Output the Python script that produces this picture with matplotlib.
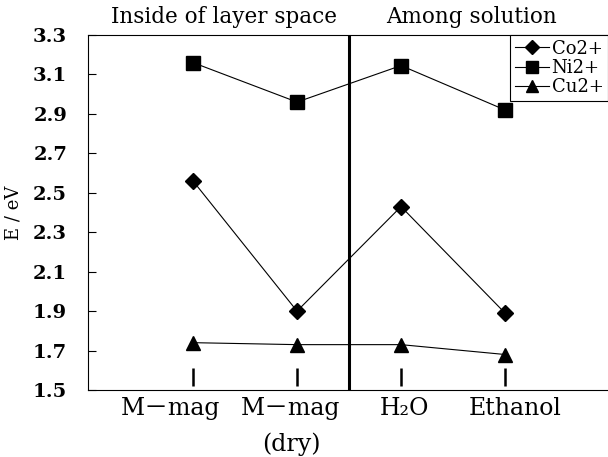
import matplotlib
matplotlib.use("Agg")
import matplotlib.pyplot as plt
from matplotlib.transforms import ScaledTranslation

# --- data ---------------------------------------------------------------------
categories = ["M\uff0dmag", "M\uff0dmag\n(dry)", "H\u2082O", "Ethanol"]
co_values = [2.56, 1.90, 2.43, 1.89]
ni_values = [3.16, 2.96, 3.145, 2.92]
cu_values = [1.74, 1.73, 1.73, 1.68]
y_ticks = [1.5, 1.7, 1.9, 2.1, 2.3, 2.5, 2.7, 2.9, 3.1, 3.3]

plt.rcParams["font.family"] = ["DejaVu Serif", "Noto Sans CJK JP"]

fig = plt.figure(figsize=(6.08, 4.57), dpi=100)
ax = fig.add_axes([0.1447, 0.1466, 0.8553, 0.7768])

x = list(range(len(categories)))
ax.plot(x, co_values, color="black", lw=0.8, marker="D", ms=8.5, label="Co2+")
ax.plot(x, ni_values, color="black", lw=0.8, marker="s", ms=10, label="Ni2+")
ax.plot(x, cu_values, color="black", lw=0.8, marker="^", ms=10, label="Cu2+")

# divider between the two groups
ax.axvline(1.5, color="black", lw=2.2)
# short category markers above the bottom axis
ax.vlines(x, 1.52, 1.61, color="black", lw=1.8)

ax.set_xlim(-1.01, 3.99)
ax.set_ylim(1.5, 3.3)
ax.set_yticks(y_ticks)
ax.set_yticklabels([f"{v:.1f}" for v in y_ticks], fontsize=14, fontweight="bold")
ax.tick_params(axis="y", direction="in", length=6, width=0.8, pad=15)
ax.set_xticks(x)
ax.set_xticklabels(categories, fontsize=17, linespacing=1.65)
ax.tick_params(axis="x", length=0, pad=5)
# the scanned labels sit a little off their category marks
label_shift_px = [-22, -6, 3, 10]
for lab, dx in zip(ax.get_xticklabels(), label_shift_px):
    lab.set_transform(lab.get_transform() + ScaledTranslation(dx / 100, 0, fig.dpi_scale_trans))

ax.spines["right"].set_visible(False)
for s in ("left", "bottom", "top"):
    ax.spines[s].set_linewidth(0.8)

ax.set_ylabel("E / eV", fontsize=13)
ax.yaxis.set_label_coords(-0.125, 0.5)

ax.text(0.3, 1.02, "Inside of layer space", transform=ax.get_xaxis_transform(),
        ha="center", va="bottom", fontsize=15.5)
ax.text(2.68, 1.02, "Among solution", transform=ax.get_xaxis_transform(),
        ha="center", va="bottom", fontsize=15.5)

leg = ax.legend(loc="upper right", bbox_to_anchor=(1.0, 1.0), fontsize=13,
                frameon=True, fancybox=False, edgecolor="black", framealpha=1,
                handlelength=1.9, handletextpad=0.15, borderpad=0.25,
                labelspacing=0.08, borderaxespad=0.0, markerscale=0.8)
leg.get_frame().set_linewidth(0.8)

fig.savefig("out.png", dpi=100)
